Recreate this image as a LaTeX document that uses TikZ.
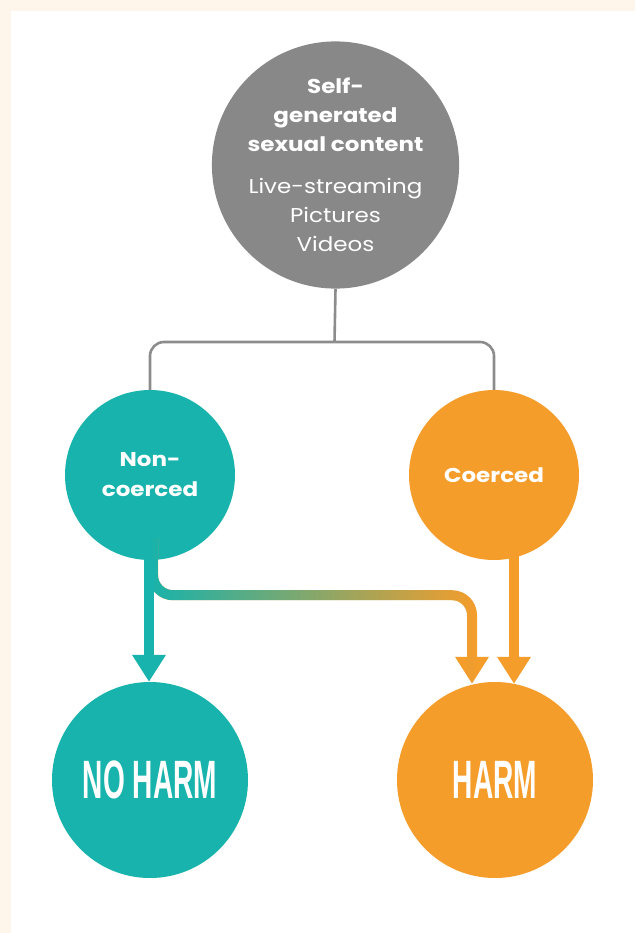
\documentclass[tikz,border=0pt]{standalone}
\usepackage{fontspec}
\setmainfont{Poppins}[FakeStretch=1.15]
\newfontfamily\harmfont[FakeStretch=0.52]{Liberation Sans}
\usetikzlibrary{arrows.meta,fadings}
\definecolor{cream}{HTML}{FFF6EB}
\definecolor{nodegray}{HTML}{888888}
\definecolor{linegray}{HTML}{8C8C8C}
\definecolor{safeteal}{HTML}{17B3AC}
\definecolor{riskorange}{HTML}{F59D2B}
\tikzfading[name=fade right, left color=transparent!0, right color=transparent!100]
\tikzset{bubble/.style={circle,inner sep=0pt,text=white,align=center},
	tree line/.style={draw=linegray,line width=2.6pt,rounded corners=14pt},
	fat arrow/.style={line width=10pt,-{Triangle[width=32pt,length=27pt]}},
	outcome/.style={bubble,minimum size=196pt,font=\harmfont\bfseries\fontsize{54}{54}\selectfont}}

\begin{document}
\begin{tikzpicture}[x=1pt,y=-1pt]
		% page and panel
			\fill[cream] (0,0) rectangle (635,933);
			\fill[white] (11,11) rectangle (635,933);
			\useasboundingbox (0,0) rectangle (635,933);

			\node[bubble,fill=nodegray,minimum size=245pt,font=\fontsize{20}{29}\selectfont] (content) at (335.5,165) {\textbf{Self-}\\\textbf{generated}\\\textbf{sexual content}\\[13pt]Live-streaming\\Pictures\\Videos};
			\node[bubble,fill=safeteal,minimum size=170pt,font=\bfseries\fontsize{20}{30}\selectfont] (noncoerced) at (150,475) {Non-\\coerced};
			\node[bubble,fill=riskorange,minimum size=170pt,font=\bfseries\fontsize{20}{30}\selectfont] (coerced) at (494,475) {Coerced};
			\node[outcome,fill=safeteal] (noharm) at (150,780) {NO HARM};
			\node[outcome,fill=riskorange] (harm) at (495,780) {HARM};

		% tree
			\coordinate (split) at (334.5,342);
			\draw[tree line] (content.south) -- (split);
			\draw[tree line] (split) -| (noncoerced.north);
			\draw[tree line] (split) -| (coerced.north);

		% crossing arrow, teal to orange
			\draw[fat arrow,riskorange,rounded corners=20pt] ([xshift=3pt,yshift=22pt]noncoerced.south) -- ++(0,57) -| ([xshift=-23pt,yshift=-2pt]harm.north);
			\draw[safeteal,line width=10pt,rounded corners=20pt,path fading=fade right] ([xshift=3pt,yshift=22pt]noncoerced.south) -- ++(0,57) -| ([xshift=-23pt,yshift=-2pt]harm.north);

			\draw[fat arrow,safeteal] ([xshift=-1pt]noncoerced.south) -- ([xshift=-1pt]noharm.north);
			\draw[fat arrow,riskorange] ([xshift=20pt,yshift=10pt]coerced.south) -- ([xshift=19pt,yshift=-2pt]harm.north);

		\end{tikzpicture}
\end{document}
